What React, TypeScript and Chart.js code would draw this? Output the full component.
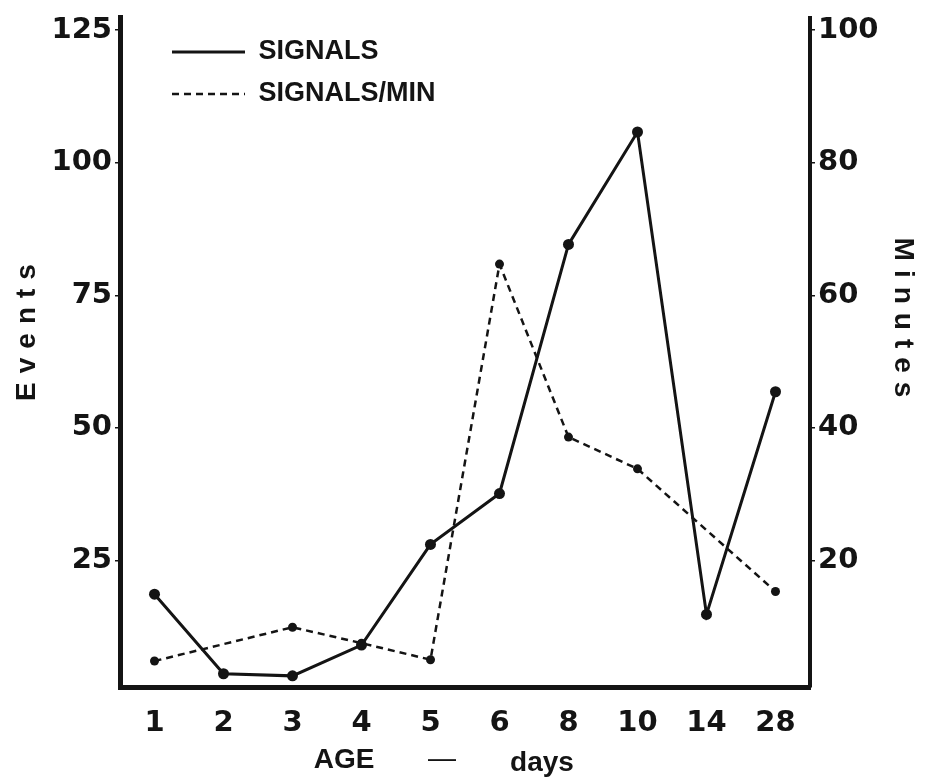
import React, { useEffect, useRef } from 'react';
import { Chart, registerables } from 'chart.js';

Chart.register(...registerables);

const ageLabels = ['1', '2', '3', '4', '5', '6', '8', '10', '14', '28'];
const signals = [18.6, 3.6, 3.2, 9.0, 28.0, 37.6, 84.6, 105.8, 14.8, 56.8];
const signalsPerMin = [4.8, null, 9.9, 7.5, 5.0, 64.7, 38.6, 33.8, null, 15.3];
const eventTicks = [25, 50, 75, 100, 125];
const minuteTicks = [20, 40, 60, 80, 100];

const INK = '#141414';
const tickFont = { family: '"DejaVu Sans", "Liberation Sans", sans-serif', weight: 'bold' as const, size: 29, lineHeight: 1 };

const titlesPlugin = {
  id: 'handTitles',
  afterDraw(chart: any) {
    const { ctx } = chart;
    ctx.save();
    ctx.fillStyle = INK;
    ctx.textAlign = 'center';
    ctx.textBaseline = 'middle';
    ctx.font = 'bold 28px "Liberation Sans", Arial, sans-serif';
    (ctx as any).letterSpacing = '9px';
    ctx.save();
    ctx.translate(27, 328);
    ctx.rotate(-Math.PI / 2);
    ctx.fillText('Events', 0, 0);
    ctx.restore();
    ctx.save();
    ctx.translate(903, 322);
    ctx.rotate(Math.PI / 2);
    ctx.fillText('Minutes', 0, 0);
    ctx.restore();
    (ctx as any).letterSpacing = '0px';
    ctx.font = 'bold 28px "Liberation Sans", Arial, sans-serif';
    ctx.fillText('AGE', 344, 760);
    ctx.fillText('days', 542, 763);
    ctx.font = '28px "Liberation Sans", Arial, sans-serif';
    ctx.fillText('\u2014', 442, 759);
    ctx.restore();
  },
};

const legendPlace = {
  id: 'legendPlace',
  afterLayout(chart: any) {
    const l = chart.legend;
    if (l && chart.chartArea) {
      l.left = chart.chartArea.left + 37;
      l.top = chart.chartArea.top + 6;
    }
  },
};

export default function App() {
  const ref = useRef<HTMLCanvasElement | null>(null);

  useEffect(() => {
    document.body.style.margin = '0';
    document.body.style.background = '#ffffff';
    const canvas = ref.current;
    if (!canvas) return;
    const chart = new Chart(canvas, {
      type: 'line',
      data: {
        labels: ageLabels,
        datasets: [
          {
            label: 'SIGNALS',
            data: signals,
            yAxisID: 'y',
            borderColor: INK,
            backgroundColor: INK,
            borderWidth: 3,
            pointRadius: 5.5,
            pointBackgroundColor: INK,
            pointBorderWidth: 0,
            tension: 0,
          },
          {
            label: 'SIGNALS/MIN',
            data: signalsPerMin,
            yAxisID: 'y1',
            borderColor: INK,
            backgroundColor: INK,
            borderWidth: 2.5,
            borderDash: [7, 5],
            pointRadius: 4.5,
            pointBackgroundColor: INK,
            pointBorderWidth: 0,
            spanGaps: true,
            tension: 0,
          },
        ],
      },
      options: {
        responsive: false,
        animation: false,
        layout: { padding: { top: 15, left: 0, right: 0, bottom: 0 } },
        plugins: {
          tooltip: { enabled: false },
          legend: {
            position: 'chartArea',
            align: 'start',
            labels: {
              usePointStyle: true,
              pointStyle: 'line',
              pointStyleWidth: 73,
              padding: 15,
              color: INK,
              font: { family: '"Liberation Sans", Arial, sans-serif', weight: 'bold', size: 27 },
              generateLabels: (c: any) =>
                (Chart.defaults as any).plugins.legend.labels.generateLabels(c).map((item: any) => {
                  const ds: any = c.data.datasets[item.datasetIndex];
                  return {
                    ...item,
                    pointStyle: 'line',
                    strokeStyle: INK,
                    lineWidth: ds.borderWidth,
                    lineDash: ds.borderDash || [],
                  };
                }),
            },
          },
        },
        scales: {
          x: {
            type: 'category',
            offset: true,
            grid: { display: false },
            border: { display: true, color: INK, width: 5 },
            ticks: { color: INK, font: tickFont, padding: 14, maxRotation: 0, autoSkip: false },
            afterFit: (s: any) => { s.height = 93; },
          },
          y: {
            position: 'left',
            min: 1.1,
            max: 127.4,
            afterBuildTicks: (s: any) => { s.ticks = eventTicks.map((v) => ({ value: v })); },
            grid: { display: true, drawOnChartArea: false, drawTicks: true, tickLength: 5, color: INK, lineWidth: 1.5 },
            border: { display: true, color: INK, width: 5 },
            ticks: { color: INK, font: tickFont, padding: 3 },
            afterFit: (s: any) => { s.width = 120; },
          },
          y1: {
            position: 'right',
            min: 0.88,
            max: 101.92,
            afterBuildTicks: (s: any) => { s.ticks = minuteTicks.map((v) => ({ value: v })); },
            grid: { display: true, drawOnChartArea: false, drawTicks: true, tickLength: 5, color: INK, lineWidth: 1.5 },
            border: { display: true, color: INK, width: 4 },
            ticks: { color: INK, font: tickFont, padding: 3 },
            afterFit: (s: any) => { s.width = 116; },
          },
        },
      } as any,
      plugins: [titlesPlugin, legendPlace],
    });
    return () => chart.destroy();
  }, []);

  return (
    <div style={{ width: 926, height: 780, background: '#fff' }}>
      <canvas ref={ref} width={926} height={780} style={{ display: 'block' }} />
    </div>
  );
}
